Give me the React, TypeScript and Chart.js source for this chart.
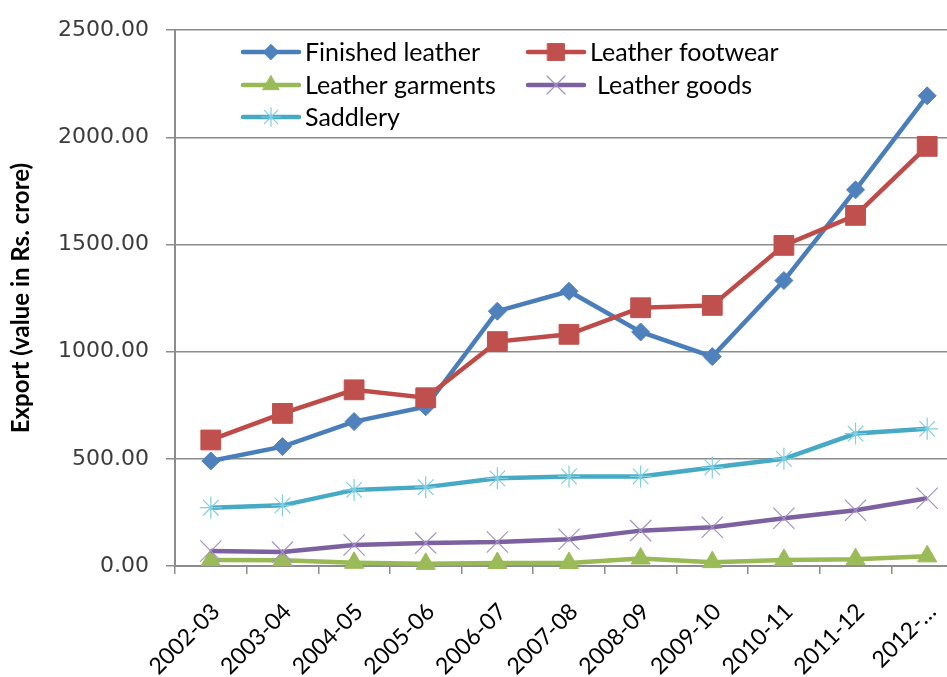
import React, { useEffect, useRef } from 'react';
import { Chart, registerables } from 'chart.js';
import { drawPoint } from 'chart.js/helpers';

Chart.register(...registerables);

const categories = ['2002-03', '2003-04', '2004-05', '2005-06', '2006-07', '2007-08', '2008-09', '2009-10', '2010-11', '2011-12', '2012-…'];
const finishedLeather = [490, 557, 674, 743, 1189, 1282, 1092, 977, 1332, 1755, 2194];
const leatherFootwear = [588, 712, 822, 785, 1047, 1081, 1205, 1216, 1496, 1636, 1958];
const leatherGarments = [28, 27, 15, 10, 14, 14, 35, 18, 28, 32, 45];
const leatherGoods = [70, 65, 98, 107, 112, 125, 165, 181, 223, 260, 316];
const saddlery = [272, 283, 355, 368, 409, 418, 418, 460, 500, 618, 640];
const yTicks = [0, 500, 1000, 1500, 2000, 2500];

const CANVAS_W = 980;
const CANVAS_H = 677;
const GRID = '#8c8c8c';

const legendPos = [
  { x: 243, y: 52, tx: 0 },
  { x: 528, y: 52, tx: 0 },
  { x: 243, y: 85, tx: 0 },
  { x: 528, y: 85, tx: 7 },
  { x: 243, y: 117, tx: 0 },
];

const legendPlugin = {
  id: 'customLegend',
  afterDatasetsDraw(chart: any) {
    const ctx = chart.ctx;
    chart.data.datasets.forEach((ds: any, i: number) => {
      const p = legendPos[i];
      const lineLen = 56;
      ctx.save();
      ctx.strokeStyle = ds.borderColor;
      ctx.lineWidth = ds.borderWidth;
      ctx.lineCap = 'round';
      ctx.beginPath();
      ctx.moveTo(p.x, p.y);
      ctx.lineTo(p.x + lineLen, p.y);
      ctx.stroke();
      ctx.fillStyle = ds.pointBackgroundColor;
      ctx.strokeStyle = ds.pointBorderColor;
      ctx.lineWidth = ds.pointBorderWidth;
      drawPoint(ctx, { pointStyle: ds.pointStyle, radius: ds.pointRadius * 0.85, rotation: 0, borderWidth: ds.pointBorderWidth }, p.x + lineLen / 2, p.y);
      ctx.fillStyle = '#000';
      ctx.font = '25px Lato';
      ctx.textBaseline = 'middle';
      ctx.textAlign = 'left';
      ctx.fillText(ds.label, p.x + lineLen + 6 + p.tx, p.y + 1);
      ctx.restore();
    });
  },
};

export default function App() {
  const ref = useRef<HTMLCanvasElement>(null);

  useEffect(() => {
    if (!ref.current) return;
    const mk = (label: string, data: number[], color: string, style: string, radius: number, pbg: string, pborder: string, pbw: number, order: number) => ({
      label,
      data,
      borderColor: color,
      backgroundColor: color,
      borderWidth: 4.5,
      pointStyle: style,
      pointRadius: radius,
      pointBackgroundColor: pbg,
      pointBorderColor: pborder,
      pointBorderWidth: pbw,
      tension: 0,
      clip: false,
      order,
    });
    const chart = new Chart(ref.current, {
      type: 'line',
      data: {
        labels: categories,
        datasets: [
          mk('Finished leather', finishedLeather, '#4A7EBB', 'rectRot', 9, '#4F81BD', '#4F81BD', 1, 5),
          mk('Leather footwear', leatherFootwear, '#BE4B48', 'rect', 14, '#C0504D', '#C0504D', 1, 4),
          mk('Leather garments', leatherGarments, '#98B954', 'triangle', 11, '#9BBB59', '#9BBB59', 1, 3),
          mk('Leather goods', leatherGoods, '#7D60A0', 'crossRot', 15, '#A592C4', '#A592C4', 1.2, 2),
          mk('Saddlery', saddlery, '#46AAC5', 'star', 11, '#80CEE2', '#80CEE2', 1.2, 1),
        ],
      },
      options: {
        responsive: false,
        animation: false,
        layout: { padding: { top: 28, right: CANVAS_W - 963, bottom: 0, left: 0 } },
        plugins: {
          legend: { display: false },
          tooltip: { enabled: false },
        },
        scales: {
          x: {
            type: 'category',
            offset: true,
            grid: { display: true, offset: true, drawOnChartArea: false, tickLength: 8, color: GRID, lineWidth: 1.5 },
            border: { display: true, color: GRID, width: 2 },
            ticks: {
              autoSkip: false,
              minRotation: 45,
              maxRotation: 45,
              padding: 24,
              labelOffset: 5,
              color: '#000',
              font: { family: 'Lato', size: 23 },
            },
            afterFit: (s: any) => {
              s.height = CANVAS_H - 566;
              s.paddingRight = 0;
            },
          },
          y: {
            min: 0,
            max: 2500,
            afterBuildTicks: (s: any) => {
              s.ticks = yTicks.map((v) => ({ value: v }));
            },
            grid: { color: GRID, lineWidth: 1.5, tickLength: 9 },
            border: { display: true, color: GRID, width: 2 },
            ticks: {
              padding: 17,
              color: '#3c3c3c',
              font: { family: 'DejaVu Sans', size: 22 },
              callback: (v: any) => Number(v).toFixed(2),
            },
            title: {
              display: true,
              text: 'Export (value in Rs. crore)',
              color: '#000',
              font: { family: 'Lato', size: 24, weight: 'bold' },
              padding: { top: 7, bottom: 0 },
            },
            afterFit: (s: any) => {
              s.width = 175;
            },
          },
        },
      },
      plugins: [legendPlugin],
    } as any);
    return () => chart.destroy();
  }, []);

  return (
    <div style={{ position: 'fixed', left: 0, top: 0, width: 947, height: 677, overflow: 'hidden', background: '#fff' }}>
      <canvas ref={ref} width={CANVAS_W} height={CANVAS_H} style={{ display: 'block', width: CANVAS_W, height: CANVAS_H }} />
    </div>
  );
}
